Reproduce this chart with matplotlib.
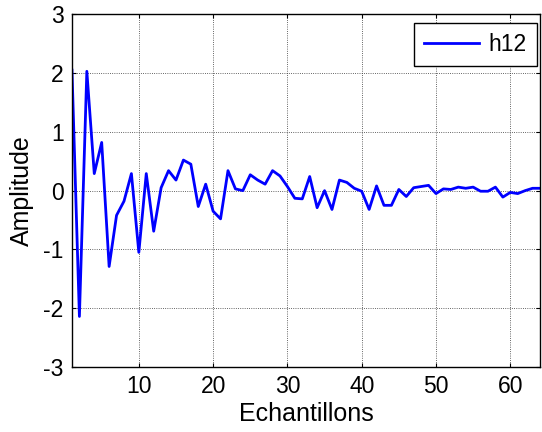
import numpy as np
import matplotlib
matplotlib.use("Agg")
import matplotlib.pyplot as plt

plt.rcParams['font.family'] = ['Liberation Sans', 'DejaVu Sans']
plt.rcParams['axes.unicode_minus'] = False

# h12 values, samples 1..64
h12 = [2.05, -2.14, 2.03, 0.29, 0.82, -1.29, -0.42, -0.18, 0.29, -1.05,
       0.29, -0.69, 0.05, 0.34, 0.18, 0.52, 0.45, -0.27, 0.11, -0.35,
       -0.48, 0.34, 0.03, 0.00, 0.27, 0.18, 0.11, 0.34, 0.25, 0.07,
       -0.13, -0.14, 0.24, -0.29, 0.00, -0.32, 0.18, 0.14, 0.04, -0.01,
       -0.32, 0.08, -0.25, -0.25, 0.02, -0.10, 0.05, 0.07, 0.09, -0.05,
       0.03, 0.02, 0.06, 0.04, 0.06, -0.01, -0.01, 0.06, -0.11, -0.03,
       -0.05, 0.00, 0.04, 0.04]
samples = np.arange(1, len(h12) + 1)
xticks = [10, 20, 30, 40, 50, 60]
yticks = [-3, -2, -1, 0, 1, 2, 3]

fig = plt.figure(figsize=(5.42, 4.32), dpi=100)
ax = fig.add_axes([0.1328, 0.1505, 0.8635, 0.8164])
ax.plot(samples, h12, color='#0000ff', lw=2, label='h12')

ax.set_xlim(1, 64)
ax.set_ylim(-3, 3)
ax.set_xticks(xticks)
ax.set_yticks(yticks)
ax.grid(True, color='#333333', linestyle=':', linewidth=0.6)
ax.tick_params(direction='in', top=True, right=True, labelsize=16.5,
               length=3, pad=6)
for s in ax.spines.values():
    s.set_linewidth(1.0)

ax.set_xlabel('Echantillons', fontsize=18, labelpad=3)
ax.set_ylabel('Amplitude', fontsize=18, labelpad=7)

leg = ax.legend(loc='upper right', bbox_to_anchor=(0.9936, 0.976),
                borderaxespad=0, fontsize=16.5, fancybox=False, framealpha=1,
                edgecolor='k', handlelength=2.4, handletextpad=0.4,
                borderpad=0.45)
leg.get_frame().set_linewidth(1.0)

fig.savefig("out.png", dpi=100)
plt.close(fig)
